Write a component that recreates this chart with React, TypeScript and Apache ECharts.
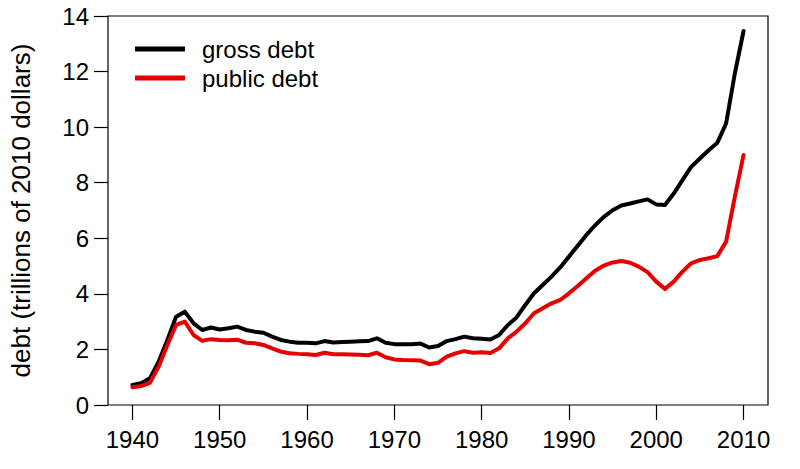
import React, { useEffect, useRef } from "react";
import * as echarts from "echarts";

const startYear = 1940;
const grossDebt = [
  0.72, 0.78, 0.96, 1.56, 2.34, 3.18, 3.36, 2.94, 2.70, 2.79,
  2.72, 2.76, 2.82, 2.70, 2.64, 2.60, 2.46, 2.34, 2.28, 2.24,
  2.24, 2.22, 2.30, 2.25, 2.27, 2.28, 2.29, 2.30, 2.40, 2.24,
  2.19, 2.19, 2.19, 2.21, 2.07, 2.12, 2.30, 2.37, 2.46, 2.40,
  2.38, 2.36, 2.52, 2.88, 3.15, 3.60, 4.02, 4.32, 4.62, 4.95,
  5.34, 5.73, 6.12, 6.47, 6.77, 7.01, 7.18, 7.25, 7.33, 7.40,
  7.22, 7.20, 7.61, 8.09, 8.57, 8.87, 9.17, 9.44, 10.13, 11.93,
  13.46,
];
const publicDebt = [
  0.64, 0.68, 0.80, 1.38, 2.16, 2.88, 3.00, 2.52, 2.31, 2.37,
  2.34, 2.33, 2.35, 2.24, 2.22, 2.16, 2.04, 1.92, 1.86, 1.84,
  1.83, 1.80, 1.88, 1.83, 1.83, 1.82, 1.81, 1.79, 1.88, 1.72,
  1.64, 1.62, 1.61, 1.60, 1.47, 1.52, 1.74, 1.86, 1.94, 1.88,
  1.90, 1.87, 2.04, 2.40, 2.64, 2.94, 3.30, 3.48, 3.66, 3.78,
  4.02, 4.28, 4.56, 4.83, 5.02, 5.13, 5.18, 5.12, 4.98, 4.78,
  4.44, 4.18, 4.44, 4.80, 5.10, 5.22, 5.28, 5.36, 5.88, 7.49,
  9.00,
];
const years = grossDebt.map((_, i) => startYear + i);
const xTicks = [1940, 1950, 1960, 1970, 1980, 1990, 2000, 2010];
const seriesNames = ["gross debt", "public debt"];
const yTitle = "debt (trillions of 2010 dollars)";

const FONT = "'Liberation Sans', Arial, Helvetica, sans-serif";

export default function App() {
  const ref = useRef<HTMLDivElement>(null);
  useEffect(() => {
    document.body.style.margin = "0";
    const chart = echarts.init(ref.current!, null, { renderer: "svg" });
    chart.setOption({
      animation: false,
      backgroundColor: "#fff",
      textStyle: { fontFamily: FONT },
      grid: {
        left: 107,
        right: 32,
        top: 16,
        bottom: 64,
        show: true,
        borderColor: "#000",
        borderWidth: 1.2,
        backgroundColor: "transparent",
      },
      legend: {
        orient: "vertical",
        left: 130,
        top: 32,
        icon: "rect",
        itemWidth: 50,
        itemHeight: 5,
        itemGap: 5,
        data: seriesNames,
        textStyle: {
          fontFamily: FONT,
          fontSize: 24,
          color: "#000",
          padding: [0, 0, 0, 12],
        },
      },
      xAxis: {
        type: "value",
        min: 1937.2,
        max: 2012.8,
        axisLine: { show: false },
        splitLine: { show: false },
        axisTick: {
          show: true,
          length: 15,
          lineStyle: { color: "#000", width: 1.2 },
          customValues: xTicks,
        },
        axisLabel: {
          customValues: xTicks,
          formatter: (v: number) => String(Math.round(v)),
          fontSize: 24,
          color: "#000",
          fontFamily: FONT,
          margin: 22,
        },
      },
      yAxis: {
        type: "value",
        min: 0,
        max: 14,
        interval: 2,
        axisLine: { show: false },
        splitLine: { show: false },
        axisTick: {
          show: true,
          length: 14,
          lineStyle: { color: "#000", width: 1.2 },
        },
        axisLabel: {
          fontSize: 24,
          color: "#000",
          fontFamily: FONT,
          margin: 19,
        },
        name: yTitle,
        nameLocation: "middle",
        nameRotate: 90,
        nameGap: 74,
        nameTextStyle: { fontSize: 26, color: "#000", fontFamily: FONT },
      },
      series: [
        {
          name: seriesNames[0],
          type: "line",
          data: years.map((y, i) => [y, grossDebt[i]]),
          showSymbol: false,
          lineStyle: { color: "#000", width: 4, join: "round", cap: "round" },
          itemStyle: { color: "#000" },
        },
        {
          name: seriesNames[1],
          type: "line",
          data: years.map((y, i) => [y, publicDebt[i]]),
          showSymbol: false,
          lineStyle: { color: "#e60000", width: 4, join: "round", cap: "round" },
          itemStyle: { color: "#e60000" },
        },
      ],
    });
    return () => chart.dispose();
  }, []);
  return <div ref={ref} style={{ width: 800, height: 469 }} />;
}
